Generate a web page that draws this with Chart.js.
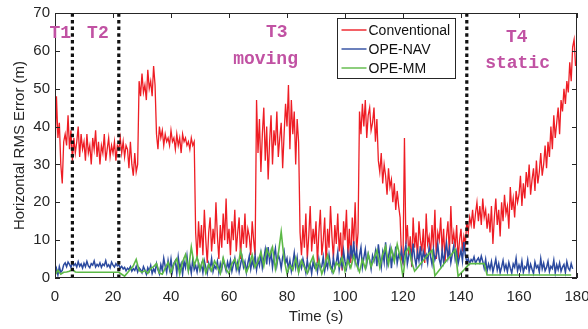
<!DOCTYPE html>
<html lang="en">
<meta charset="utf-8" />
<title>Horizontal RMS Error vs Time</title>
<script src="https://cdn.jsdelivr.net/npm/chart.js@4.4.1"></script>
<style>
*{box-sizing:border-box}
body{margin:0;background:#fff}
canvas{display:block}
</style>
<body>
<canvas id="chart" width="588" height="329"></canvas>
<script>
/* sample steps (s) */
const RED_STEP = 0.5, BLUE_STEP = 0.5, GREEN_STEP = 1;

/* Conventional, every 0.5 s from t = 0 */
const conventional = [
  33,48,37,41,30,25,36,38,35,43,34,39,31,37,33,36,40,32,38,34,
  36,31,38,33,35,30,37,34,39,32,36,30,35,33,38,31,34,37,32,35,
  33,36,31,35,34,37,33,36,32,35,34,29,36,30,27,33,28,30,52,48,
  54,49,51,47,55,50,52,48,56,51,38,34,40,37,39,35,38,36,37,35,
  39,36,37,34,38,35,37,33,38,36,37,35,36,34,37,35,36,12,5,15,
  8,14,6,18,10,4,12,16,7,13,9,20,11,5,14,8,17,10,21,9,
  13,6,15,10,18,7,12,16,5,14,9,17,8,13,11,6,15,10,6,47,
  33,42,28,38,45,31,40,26,36,43,30,39,35,44,32,37,41,29,38,46,
  40,51,34,47,38,44,30,42,36,12,6,14,8,17,5,11,19,7,13,9,
  15,4,12,18,6,10,16,3,13,8,19,11,5,14,9,17,7,12,2,15,
  10,18,6,13,4,16,9,20,7,12,44,38,46,40,47,37,43,45,39,41,
  45,36,42,31,28,33,25,30,27,22,29,24,26,20,25,18,23,19,16,5,
  4,37,9,14,6,11,3,16,8,12,5,15,10,7,13,4,17,9,11,6,
  14,8,18,5,12,10,16,7,13,4,11,15,6,19,9,12,8,14,5,10,
  13,7,11,9,15,12,16,14,18,13,17,20,15,19,14,21,16,18,13,17,
  12,19,9,16,21,14,18,11,20,15,22,17,19,13,24,18,21,16,23,20,
  22,27,19,25,21,28,24,30,22,26,29,23,31,25,28,33,27,30,35,29,
  36,32,40,34,43,37,41,45,38,47,44,50,46,52,49,57,52,61,63,56
];

/* OPE-NAV, every 0.5 s from t = 0 */
const opeNav = [
  1,2.5,0.8,3,1.5,2,3.5,4,3,4.2,3.6,2.8,4.1,3.3,3.8,2.9,4.3,3.1,3.7,2.6,
  3.9,3,4.4,3.2,2.7,3.8,3.4,4.5,2.9,3.6,3.1,4,2.8,3.7,3.3,4.6,3,3.5,2.7,4.2,
  3.4,2.9,3.8,3.2,3.5,2.6,3.1,2.4,2.8,1.9,2.6,2.2,3,1.8,2.5,2,3.1,1.6,2.7,2.2,
  1.4,3,2.1,1,2.7,1.8,3.3,1.2,2.4,1.6,3.8,2.2,1.1,3.5,2,5.2,3.1,1.5,4.6,2.3,
  5,1.8,3.9,4.6,1.2,5.5,2.6,3.8,1,4.4,2.8,5.8,1.9,3.6,1.3,4.9,2.2,3.3,1.6,4,
  2.1,3.6,1.4,4.5,2.8,1.2,3.9,2.4,5.1,1.7,3.2,2.5,4.4,1.5,3.8,2.2,4.9,3.4,1.9,4.2,
  2.6,4.7,1.8,3.5,5.2,2.3,4.1,1.6,3.7,5.5,2.9,4.3,1.5,3.9,5.8,2.4,4.6,3.1,6,2.2,
  4.8,3.3,6.4,2.7,5.1,7.5,3.6,8.2,4.4,6.9,2.8,5.7,7.8,3.4,6.2,4.9,2.5,5.5,7.1,3.9,
  5.2,2.3,4.6,1.8,3.9,6.6,2.9,5.4,1.7,4.1,2.6,5,3.3,1.4,4.7,2.1,3.6,1.2,4.3,2.8,
  3.7,1.6,4.9,2.4,3.1,5.6,1.9,4.2,2.7,6.1,3.4,1.8,5.3,2.5,4,6.8,2.2,4.7,3,7.2,
  4.3,2.6,6.5,3.8,8.6,5.1,9.7,4.4,7.3,3.2,6,8.1,2.9,5.4,7.6,3.7,6.3,4.8,2.4,5.9,
  4.5,7,3.1,8.9,5.6,2.8,6.7,4.2,9.4,3.5,5.8,7.9,2.6,6.4,4.7,8.3,3.9,6.1,5.2,7.4,
  4.1,6.6,8.8,3.7,5.9,7.2,4.4,9.1,5.5,3.3,6.8,4.6,8.4,3.9,7,5.3,6.2,4,8,5.7,
  3.6,7.5,4.8,6.1,8.9,5,3.4,7.3,4.2,6.6,9.2,5.4,7.8,4.1,6.3,8.5,4.9,6.9,3.8,5.6,
  7.4,4.5,9.5,6,4.2,5.1,3.8,4.9,4.4,5.6,3.9,4.7,5.3,4.1,5.8,4.4,2.6,4.9,1.8,3.7,
  2.4,4.3,1.6,3.2,5,2.1,3.8,1.4,2.9,4.6,2.2,3.5,1.7,4.1,2.6,1.3,3.7,2.8,5.2,1.9,
  3.4,2.1,4.5,1.5,3,2.5,4.8,1.8,3.6,2.3,1.2,4.2,2.7,3.3,1.6,5.1,2.4,3.9,1.9,2.8,
  4.4,1.7,3.1,2.5,4.7,1.4,3.5,2.2,4,1.8,2.9,3.6,1.5,4.3,2.6,2,3.8,2.4
];

/* OPE-MM, every 1 s from t = 0 */
const opeMM = [
  0.8,2,1,1.5,1.6,1.8,2.3,1.6,1.5,1.5,
  1.5,1.5,1.5,1.5,1.5,1.5,1.5,1.5,1.5,1.5,
  1.5,1.5,1.5,1,0.5,1.4,2.3,3.2,4.9,2,
  1.5,2,1.2,2.5,3,3.8,1.3,1,2.6,4.1,
  1.4,3.7,5.1,1,4.3,6.2,2,8.2,3.3,5.5,
  2.2,4.8,1.3,3.6,1.9,4.5,3,1.2,5.3,2.4,
  1.1,3.8,5,2.5,7.2,4,1.5,3.3,6.1,2.8,
  4.4,6.9,3.2,7.6,5.8,8.1,2.4,6.3,12.2,5,
  1.2,3.4,2.1,5.2,1.5,4.6,2.8,1.3,3.9,5.7,
  2.3,4.5,1.1,3.2,6,2.6,1.4,4.1,3.1,5.4,
  1.8,4.6,2.7,5.8,3.4,1.6,4.9,2.5,6.4,3,
  5.1,7.3,2.8,6.2,8.4,3.6,7.7,4.4,8.9,5.5,
  0.2,6.8,8.1,4.2,1.8,2.7,3.7,4.6,5.6,6.5,
  7.3,0.6,1.6,2.6,3.6,4.6,5.5,6.5,7.5,0.5,
  1.3,2.1,3,3.8,3.8,3.8,3.8,3.8,3.8,0.8,
  0.8,0.8,0.8,0.8,0.8,0.8,0.8,0.8,0.8,0.8,
  0.8,0.8,0.8,0.8,0.8,0.8,0.8,0.8,0.8,0.8,
  0.8,0.8,0.8,0.8,0.8,0.8,0.8,0.8,0.8
];

const seriesNames  = ['Conventional', 'OPE-NAV', 'OPE-MM'];
const seriesColors = ['#ee1d24', '#2b4a9f', '#5cb946'];

/* phase boundaries (s) and phase labels */
const phaseLines = [6, 22, 142];
const phaseNotes = [
  { text:'T1',     t:1.8,   v:64.5 },
  { text:'T2',     t:14.8,  v:64.5 },
  { text:'T3',     t:76.5,  v:64.8 },
  { text:'moving', t:72.6,  v:57.6 },
  { text:'T4',     t:159.2, v:63.6 },
  { text:'static', t:159.5, v:56.6 }
];

const xTicks = [0,20,40,60,80,100,120,140,160,180];
const yTicks = [0,10,20,30,40,50,60,70];

const toXY = (arr, step) => arr.map((v, i) => ({ x: i * step, y: v }));

const datasets = [
  { label:seriesNames[0], data:toXY(conventional, RED_STEP), borderColor:seriesColors[0], borderWidth:1.3, order:3 },
  { label:seriesNames[1], data:toXY(opeNav, BLUE_STEP),      borderColor:seriesColors[1], borderWidth:1.5, order:2 },
  { label:seriesNames[2], data:toXY(opeMM, GREEN_STEP),      borderColor:seriesColors[2], borderWidth:1.6, order:1 }
];
phaseLines.forEach(t => datasets.push({
  label:'', data:[{x:t, y:0}, {x:t, y:70}],
  borderColor:'#111', borderWidth:3.2, borderDash:[3.5,3.2], order:0
}));

/* box, inward ticks, phase labels, legend */
const deco = {
  id:'deco',
  afterDatasetsDraw(chart){
    const {ctx, chartArea:a, scales:{x, y}} = chart;
    ctx.save();
    ctx.strokeStyle = '#262626';
    ctx.lineWidth = 1;
    ctx.beginPath();
    xTicks.forEach(v => {
      const px = Math.round(x.getPixelForValue(v)) + 0.5;
      ctx.moveTo(px, a.bottom); ctx.lineTo(px, a.bottom - 5);
      ctx.moveTo(px, a.top);    ctx.lineTo(px, a.top + 5);
    });
    yTicks.forEach(v => {
      const py = Math.round(y.getPixelForValue(v)) + 0.5;
      ctx.moveTo(a.left, py);  ctx.lineTo(a.left + 5, py);
      ctx.moveTo(a.right, py); ctx.lineTo(a.right - 5, py);
    });
    ctx.stroke();
    ctx.strokeRect(Math.round(a.left) + 0.5, Math.round(a.top) + 0.5,
                   Math.round(a.width) - 1, Math.round(a.height) - 1);

    // phase labels
    ctx.fillStyle = '#c152a3';
    ctx.font = 'bold 18px "Liberation Mono", monospace';
    ctx.textAlign = 'center';
    ctx.textBaseline = 'middle';
    phaseNotes.forEach(n => ctx.fillText(n.text, x.getPixelForValue(n.t), y.getPixelForValue(n.v)));

    // legend
    const lx = 337.5, ly = 18.5, lw = 118, lh = 60;
    ctx.fillStyle = '#fff';
    ctx.fillRect(lx, ly, lw, lh);
    ctx.strokeStyle = '#262626';
    ctx.strokeRect(lx, ly, lw, lh);
    ctx.font = '14px "Liberation Sans", Arial, sans-serif';
    ctx.textAlign = 'left';
    seriesNames.forEach((name, i) => {
      const ry = ly + 11.5 + i * 19;
      ctx.strokeStyle = seriesColors[i];
      ctx.lineWidth = 1.4;
      ctx.beginPath();
      ctx.moveTo(lx + 4, ry); ctx.lineTo(lx + 29, ry);
      ctx.stroke();
      ctx.fillStyle = '#111';
      ctx.fillText(name, lx + 31, ry + 1);
    });
    ctx.restore();
  }
};

const font = { family:'"Liberation Sans", Arial, sans-serif', size:15 };

new Chart(document.getElementById('chart'), {
  type:'line',
  data:{ datasets },
  options:{
    responsive:false,
    animation:false,
    parsing:false,
    normalized:true,
    layout:{ padding:{ top:13, right:11, left:0, bottom:0 } },
    elements:{ point:{ radius:0 }, line:{ tension:0 } },
    plugins:{ legend:{ display:false }, tooltip:{ enabled:false } },
    scales:{
      x:{
        type:'linear', min:0, max:180,
        afterFit(s){ s.height = 51; s.paddingLeft = 0; s.paddingRight = 0; },
        afterBuildTicks(s){ s.ticks = xTicks.map(v => ({ value:v })); },
        grid:{ display:false, drawTicks:false }, border:{ display:false },
        ticks:{ font, color:'#262626', padding:10, maxRotation:0 },
        title:{ display:true, text:'Time (s)', font, color:'#262626', padding:{ top:0, bottom:3 } }
      },
      y:{
        type:'linear', min:0, max:70,
        afterFit(s){ s.width = 55; s.paddingTop = 0; s.paddingBottom = 0; },
        afterBuildTicks(s){ s.ticks = yTicks.map(v => ({ value:v })); },
        grid:{ display:false, drawTicks:false }, border:{ display:false },
        ticks:{ font, color:'#262626', padding:5 },
        title:{ display:true, text:'Horizontal RMS Error (m)', font, color:'#262626', padding:{ top:11, bottom:0 } }
      }
    }
  },
  plugins:[deco]
});
</script>
</body>
</html>
